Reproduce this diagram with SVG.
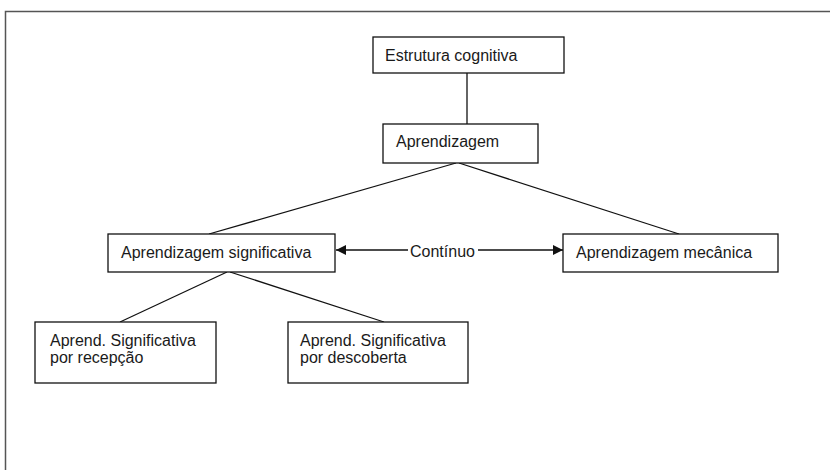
<svg xmlns="http://www.w3.org/2000/svg" width="830" height="470" viewBox="0 0 830 470">
<style>
.box{fill:#fff;stroke:#111;stroke-width:1.3}
.t{font-family:"Liberation Sans",Arial,sans-serif;font-size:16px;fill:#1a1a1a}
.ln{stroke:#111;stroke-width:1.3;fill:none}
</style>
<defs>
<marker id="ah" viewBox="0 0 10 10" refX="10" refY="5" markerWidth="11" markerHeight="10" markerUnits="userSpaceOnUse" orient="auto-start-reverse">
<path d="M0,0 L10,5 L0,10 Z" fill="#111"/>
</marker>
</defs>
<rect width="830" height="470" fill="#fff"/>
<path d="M5.5,470 V11.5 H830" fill="none" stroke="#555" stroke-width="1.5"/>
<g id="connectors">
<line class="ln" x1="467" y1="73" x2="467" y2="124"/>
<line class="ln" x1="456" y1="163" x2="209" y2="234"/>
<line class="ln" x1="459" y1="163" x2="679" y2="234"/>
<line class="ln" x1="227" y1="272" x2="120" y2="322"/>
<line class="ln" x1="230" y1="272" x2="384" y2="322"/>
<line class="ln" x1="336" y1="250" x2="408" y2="250" marker-start="url(#ah)"/>
<line class="ln" x1="478" y1="250" x2="563" y2="250" marker-end="url(#ah)"/>
<text class="t" x="410" y="257">Contínuo</text>
</g>
<g id="n1"><rect class="box" x="373" y="37" width="191" height="36"/><text class="t" x="385" y="61">Estrutura cognitiva</text></g>
<g id="n2"><rect class="box" x="383" y="124" width="155" height="39"/><text class="t" x="396" y="147">Aprendizagem</text></g>
<g id="n3"><rect class="box" x="108" y="234" width="227" height="38"/><text class="t" x="121" y="258">Aprendizagem significativa</text></g>
<g id="n4"><rect class="box" x="563" y="234" width="215" height="38"/><text class="t" x="576" y="258">Aprendizagem mecânica</text></g>
<g id="n5"><rect class="box" x="35" y="322" width="181" height="61"/><text class="t" x="50" y="346">Aprend. Significativa</text><text class="t" x="50" y="363">por recepção</text></g>
<g id="n6"><rect class="box" x="288" y="322" width="180" height="61"/><text class="t" x="300" y="346">Aprend. Significativa</text><text class="t" x="300" y="363">por descoberta</text></g>
</svg>
